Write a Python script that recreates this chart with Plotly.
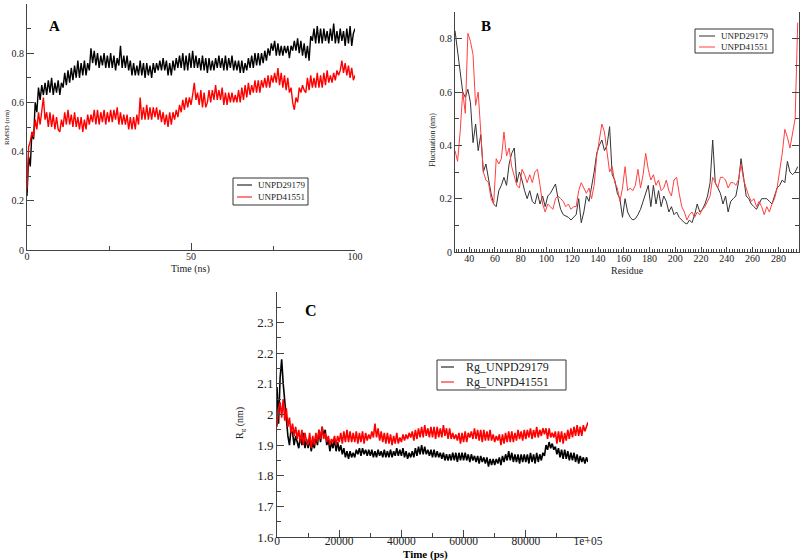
import plotly.graph_objects as go

# ---- panel A: RMSD (ns, nm) -------------------------------------------
time_ns = [i * 0.5 for i in range(201)]
rmsd_29179 = [
    0.22, 0.38, 0.34, 0.48, 0.45, 0.60, 0.56, 0.66, 0.61, 0.67,
    0.63, 0.68, 0.63, 0.69, 0.64, 0.70, 0.63, 0.68, 0.64, 0.69,
    0.63, 0.68, 0.66, 0.72, 0.67, 0.73, 0.68, 0.74, 0.69, 0.75,
    0.70, 0.77, 0.70, 0.76, 0.71, 0.77, 0.71, 0.76, 0.73, 0.82,
    0.76, 0.81, 0.75, 0.80, 0.74, 0.79, 0.75, 0.80, 0.74, 0.79,
    0.74, 0.80, 0.74, 0.79, 0.73, 0.78, 0.75, 0.83, 0.74, 0.79,
    0.74, 0.79, 0.73, 0.77, 0.71, 0.76, 0.71, 0.75, 0.71, 0.77,
    0.71, 0.76, 0.70, 0.76, 0.71, 0.75, 0.70, 0.76, 0.72, 0.76,
    0.73, 0.77, 0.73, 0.78, 0.73, 0.77, 0.71, 0.76, 0.71, 0.77,
    0.73, 0.78, 0.74, 0.79, 0.74, 0.80, 0.73, 0.79, 0.73, 0.80,
    0.74, 0.81, 0.74, 0.79, 0.74, 0.78, 0.73, 0.79, 0.73, 0.78,
    0.72, 0.78, 0.73, 0.77, 0.73, 0.78, 0.74, 0.79, 0.74, 0.78,
    0.73, 0.79, 0.73, 0.78, 0.74, 0.79, 0.73, 0.77, 0.73, 0.77,
    0.72, 0.77, 0.72, 0.76, 0.73, 0.78, 0.74, 0.79, 0.74, 0.80,
    0.75, 0.80, 0.75, 0.80, 0.76, 0.81, 0.77, 0.82, 0.79, 0.84,
    0.81, 0.85, 0.79, 0.84, 0.79, 0.83, 0.79, 0.83, 0.80, 0.83,
    0.78, 0.83, 0.81, 0.85, 0.81, 0.86, 0.80, 0.85, 0.79, 0.84,
    0.78, 0.83, 0.77, 0.87, 0.85, 0.90, 0.84, 0.91, 0.84, 0.90,
    0.84, 0.90, 0.85, 0.89, 0.84, 0.90, 0.85, 0.92, 0.84, 0.89,
    0.84, 0.90, 0.85, 0.89, 0.83, 0.90, 0.84, 0.91, 0.83, 0.88,
    0.90,
]
rmsd_41551 = [
    0.25, 0.42, 0.44, 0.48, 0.46, 0.53, 0.49, 0.56, 0.51, 0.57,
    0.62, 0.53, 0.56, 0.50, 0.56, 0.50, 0.55, 0.49, 0.54, 0.49,
    0.48, 0.53, 0.50, 0.56, 0.51, 0.57, 0.51, 0.55, 0.50, 0.56,
    0.50, 0.54, 0.49, 0.54, 0.48, 0.53, 0.49, 0.55, 0.51, 0.55,
    0.52, 0.57, 0.51, 0.57, 0.51, 0.56, 0.52, 0.57, 0.51, 0.56,
    0.52, 0.57, 0.52, 0.57, 0.53, 0.58, 0.51, 0.56, 0.51, 0.55,
    0.51, 0.55, 0.49, 0.54, 0.49, 0.54, 0.49, 0.55, 0.51, 0.62,
    0.53, 0.58, 0.53, 0.59, 0.53, 0.58, 0.53, 0.58, 0.54, 0.58,
    0.53, 0.57, 0.52, 0.56, 0.51, 0.55, 0.50, 0.56, 0.51, 0.56,
    0.53, 0.57, 0.54, 0.59, 0.56, 0.61, 0.57, 0.62, 0.58, 0.62,
    0.59, 0.63, 0.68, 0.61, 0.64, 0.59, 0.65, 0.58, 0.64, 0.58,
    0.60, 0.65, 0.60, 0.65, 0.61, 0.67, 0.61, 0.65, 0.61, 0.66,
    0.59, 0.64, 0.59, 0.64, 0.60, 0.64, 0.60, 0.63, 0.60, 0.65,
    0.60, 0.66, 0.61, 0.67, 0.62, 0.68, 0.63, 0.67, 0.64, 0.69,
    0.64, 0.69, 0.64, 0.69, 0.66, 0.70, 0.66, 0.71, 0.66, 0.71,
    0.68, 0.72, 0.68, 0.74, 0.67, 0.72, 0.66, 0.71, 0.65, 0.70,
    0.64, 0.66, 0.60, 0.57, 0.62, 0.60, 0.66, 0.64, 0.67, 0.65,
    0.64, 0.70, 0.65, 0.71, 0.66, 0.70, 0.66, 0.72, 0.66, 0.71,
    0.66, 0.72, 0.67, 0.73, 0.68, 0.71, 0.68, 0.72, 0.69, 0.73,
    0.71, 0.73, 0.77, 0.72, 0.76, 0.71, 0.75, 0.70, 0.74, 0.69,
    0.71,
]

# ---- panel B: RMSF per residue (nm) -----------------------------------
residues = list(range(29, 297, 2))
rmsf_29179 = [
    0.83, 0.76, 0.68, 0.60, 0.58, 0.61, 0.56, 0.41, 0.48, 0.38,
    0.44, 0.30, 0.33, 0.27, 0.22, 0.18, 0.17, 0.23, 0.25, 0.28,
    0.25, 0.33, 0.37, 0.39, 0.26, 0.30, 0.27, 0.23, 0.20, 0.23,
    0.19, 0.18, 0.22, 0.18, 0.21, 0.17, 0.21, 0.22, 0.24, 0.255,
    0.20, 0.16, 0.14, 0.135, 0.13, 0.12, 0.13, 0.14, 0.20, 0.11,
    0.15, 0.21, 0.19, 0.24, 0.30, 0.37, 0.40, 0.42, 0.38, 0.40,
    0.47, 0.29, 0.27, 0.22, 0.20, 0.13, 0.20, 0.15, 0.13, 0.12,
    0.125, 0.14, 0.16, 0.19, 0.22, 0.25, 0.17, 0.25, 0.18, 0.23,
    0.17, 0.21, 0.19, 0.15, 0.17, 0.14, 0.15, 0.13, 0.12, 0.11,
    0.105, 0.12, 0.11, 0.14, 0.18, 0.15, 0.16, 0.18, 0.21, 0.26,
    0.42, 0.26, 0.24, 0.22, 0.18, 0.21, 0.15, 0.19, 0.20, 0.21,
    0.26, 0.35, 0.28, 0.21, 0.20, 0.18, 0.17, 0.16, 0.18, 0.20,
    0.20, 0.20, 0.19, 0.18, 0.21, 0.24, 0.25, 0.27, 0.26, 0.34,
    0.30, 0.29, 0.30, 0.32,
]
rmsf_41551 = [
    0.38, 0.34, 0.45, 0.60, 0.52, 0.82, 0.79, 0.74, 0.55, 0.60,
    0.45, 0.30, 0.27, 0.26, 0.20, 0.18, 0.35, 0.33, 0.35, 0.45,
    0.36, 0.39, 0.32, 0.28, 0.25, 0.24, 0.31, 0.29, 0.26, 0.29,
    0.26, 0.30, 0.31, 0.25, 0.18, 0.15, 0.18, 0.17, 0.16, 0.20,
    0.21, 0.20, 0.19, 0.17, 0.18, 0.16, 0.17, 0.17, 0.23, 0.26,
    0.24, 0.22, 0.24, 0.20, 0.25, 0.36, 0.42, 0.48, 0.45, 0.38,
    0.30, 0.32, 0.26, 0.24, 0.19, 0.24, 0.32, 0.23, 0.24, 0.23,
    0.25, 0.31, 0.24, 0.29, 0.37, 0.31, 0.27, 0.29, 0.25, 0.27,
    0.23, 0.24, 0.27, 0.23, 0.21, 0.27, 0.28, 0.22, 0.17, 0.15,
    0.12, 0.14, 0.15, 0.13, 0.15, 0.14, 0.16, 0.17, 0.19, 0.21,
    0.28, 0.26, 0.24, 0.28, 0.28, 0.27, 0.24, 0.26, 0.26, 0.25,
    0.27, 0.33, 0.27, 0.24, 0.21, 0.19, 0.20, 0.17, 0.19, 0.17,
    0.14, 0.17, 0.15, 0.18, 0.20, 0.24, 0.30, 0.37, 0.46, 0.43,
    0.39, 0.44, 0.50, 0.86,
]

# ---- panel C: radius of gyration (ps, nm) -----------------------------
time_ps = [i * 500 for i in range(201)]
rg_29179 = [
    2.09, 1.97, 2.12, 2.18, 2.10, 2.04, 1.97, 1.93, 1.90, 1.95,
    1.94, 1.90, 1.93, 1.91, 1.89, 1.93, 1.90, 1.94, 1.89, 1.92,
    1.89, 1.92, 1.88, 1.91, 1.89, 1.93, 1.90, 1.95, 1.91, 1.96,
    1.93, 1.95, 1.90, 1.92, 1.88, 1.91, 1.89, 1.92, 1.88, 1.91,
    1.88, 1.90, 1.87, 1.89, 1.86, 1.88, 1.855, 1.88, 1.86, 1.875,
    1.86, 1.885, 1.87, 1.89, 1.865, 1.89, 1.87, 1.885, 1.865, 1.885,
    1.865, 1.885, 1.86, 1.88, 1.86, 1.885, 1.865, 1.88, 1.86, 1.885,
    1.86, 1.88, 1.86, 1.885, 1.86, 1.88, 1.865, 1.89, 1.865, 1.885,
    1.865, 1.89, 1.86, 1.88, 1.855, 1.875, 1.86, 1.88, 1.86, 1.89,
    1.865, 1.895, 1.87, 1.90, 1.87, 1.895, 1.87, 1.885, 1.865, 1.885,
    1.86, 1.885, 1.86, 1.88, 1.86, 1.875, 1.855, 1.875, 1.85, 1.87,
    1.85, 1.87, 1.85, 1.875, 1.85, 1.875, 1.845, 1.875, 1.85, 1.875,
    1.85, 1.875, 1.85, 1.87, 1.845, 1.87, 1.85, 1.865, 1.845, 1.865,
    1.84, 1.865, 1.845, 1.86, 1.84, 1.86, 1.83, 1.855, 1.835, 1.855,
    1.835, 1.855, 1.84, 1.86, 1.835, 1.865, 1.845, 1.87, 1.85, 1.88,
    1.85, 1.875, 1.845, 1.87, 1.845, 1.87, 1.84, 1.87, 1.845, 1.87,
    1.845, 1.87, 1.84, 1.875, 1.845, 1.87, 1.84, 1.875, 1.845, 1.87,
    1.85, 1.875, 1.865, 1.90, 1.885, 1.91, 1.89, 1.905, 1.885, 1.895,
    1.87, 1.89, 1.86, 1.885, 1.855, 1.885, 1.855, 1.88, 1.85, 1.875,
    1.85, 1.875, 1.845, 1.87, 1.84, 1.865, 1.845, 1.86, 1.84, 1.86,
    1.845,
]
rg_41551 = [
    1.96, 2.02, 2.04, 1.99, 2.05, 1.98, 2.02, 1.96, 1.99, 1.94,
    1.97, 1.93, 1.96, 1.92, 1.95, 1.91, 1.95, 1.90, 1.94, 1.91,
    1.90, 1.94, 1.89, 1.93, 1.90, 1.94, 1.91, 1.95, 1.92, 1.96,
    1.92, 1.94, 1.91, 1.93, 1.90, 1.92, 1.91, 1.93, 1.90, 1.93,
    1.91, 1.94, 1.905, 1.945, 1.91, 1.95, 1.91, 1.945, 1.91, 1.94,
    1.91, 1.945, 1.905, 1.94, 1.91, 1.945, 1.905, 1.94, 1.915, 1.935,
    1.92, 1.945, 1.925, 1.97, 1.925, 1.955, 1.915, 1.945, 1.91, 1.94,
    1.905, 1.94, 1.905, 1.935, 1.90, 1.93, 1.905, 1.94, 1.905, 1.925,
    1.91, 1.935, 1.915, 1.935, 1.92, 1.94, 1.925, 1.945, 1.915, 1.95,
    1.92, 1.955, 1.925, 1.96, 1.925, 1.965, 1.93, 1.955, 1.925, 1.96,
    1.925, 1.96, 1.92, 1.96, 1.925, 1.955, 1.925, 1.965, 1.93, 1.955,
    1.92, 1.955, 1.92, 1.94, 1.92, 1.935, 1.915, 1.94, 1.905, 1.94,
    1.91, 1.945, 1.91, 1.94, 1.925, 1.945, 1.92, 1.955, 1.92, 1.95,
    1.915, 1.95, 1.91, 1.95, 1.915, 1.945, 1.915, 1.95, 1.915, 1.935,
    1.91, 1.93, 1.915, 1.935, 1.90, 1.935, 1.905, 1.94, 1.91, 1.945,
    1.91, 1.945, 1.91, 1.94, 1.915, 1.95, 1.92, 1.945, 1.915, 1.95,
    1.92, 1.95, 1.925, 1.955, 1.92, 1.95, 1.925, 1.96, 1.925, 1.95,
    1.93, 1.955, 1.935, 1.955, 1.92, 1.955, 1.925, 1.94, 1.925, 1.945,
    1.905, 1.945, 1.91, 1.945, 1.905, 1.94, 1.915, 1.95, 1.92, 1.955,
    1.925, 1.96, 1.93, 1.965, 1.93, 1.96, 1.93, 1.965, 1.945, 1.965,
    1.975,
]

c_xticks = [0, 20000, 40000, 60000, 80000, 100000]
c_xticklabels = ["0", "20000", "40000", "60000", "80000", "1e+05"]
c_yticks = [1.6, 1.7, 1.8, 1.9, 2.0, 2.1, 2.2, 2.3]

W, H = 800, 560
SERIF = "Liberation Serif"
BLACK = "#000000"
RED = "#ff0000"
AXIS = "#444444"
TEXT = "#222222"


def px_x(p):
    return p / W


def px_y(p):
    return 1 - p / H


def axis(domain, size, **kw):
    # xmgrace look: plain line, inward ticks, no grid
    d = dict(
        domain=domain,
        showline=True,
        linecolor=AXIS,
        linewidth=1,
        ticks="inside",
        ticklen=7,
        tickcolor=AXIS,
        showgrid=False,
        zeroline=False,
        tickfont=dict(family=SERIF, size=size, color=TEXT),
        automargin=False,
    )
    d.update(kw)
    return d


fig = go.Figure()

# A
fig.add_trace(go.Scatter(x=time_ns, y=rmsd_29179, mode="lines", name="UNPD29179",
                         line=dict(color=BLACK, width=1.4), xaxis="x", yaxis="y"))
fig.add_trace(go.Scatter(x=time_ns, y=rmsd_41551, mode="lines", name="UNPD41551",
                         line=dict(color=RED, width=1.4), xaxis="x", yaxis="y"))
# B
fig.add_trace(go.Scatter(x=residues, y=rmsf_29179, mode="lines", name="UNPD29179",
                         line=dict(color="#333333", width=1), xaxis="x2", yaxis="y2"))
fig.add_trace(go.Scatter(x=residues, y=rmsf_41551, mode="lines", name="UNPD41551",
                         line=dict(color="#ff4040", width=1), xaxis="x2", yaxis="y2"))
# C
fig.add_trace(go.Scatter(x=time_ps, y=rg_29179, mode="lines", name="Rg_UNPD29179",
                         line=dict(color=BLACK, width=1.6), xaxis="x3", yaxis="y3"))
fig.add_trace(go.Scatter(x=time_ps, y=rg_41551, mode="lines", name="Rg_UNPD41551",
                         line=dict(color=RED, width=1.6), xaxis="x3", yaxis="y3"))

shapes = []
annotations = []


def text(t, x, y, size, bold=False, angle=0, xanchor="center"):
    annotations.append(dict(
        text=f"<b>{t}</b>" if bold else t, x=px_x(x), y=px_y(y),
        xref="paper", yref="paper", showarrow=False, textangle=angle,
        xanchor=xanchor, yanchor="middle",
        font=dict(family=SERIF, size=size, color=TEXT if not bold else "black"),
    ))


def legend_box(box, rows, line_x, text_x, size):
    # grace-style legend: framed box, short line sample, label
    x0, y0, x1, y1 = box
    shapes.append(dict(type="rect", xref="paper", yref="paper",
                       x0=px_x(x0), x1=px_x(x1), y0=px_y(y1), y1=px_y(y0),
                       line=dict(color="#333", width=1), fillcolor="white", layer="above"))
    for color, y, label in rows:
        shapes.append(dict(type="line", xref="paper", yref="paper",
                           x0=px_x(line_x[0]), x1=px_x(line_x[1]), y0=px_y(y), y1=px_y(y),
                           line=dict(color=color, width=1), layer="above"))
        text(label, text_x, y, size, xanchor="left")


legend_box((233, 178, 308, 205), [(BLACK, 185, "UNPD29179"), (RED, 197, "UNPD41551")],
           (237, 252), 256, 9)
legend_box((695, 29, 773, 53), [("#333333", 36, "UNPD29179"), ("#ff4040", 47, "UNPD41551")],
           (699, 715), 719, 9)
legend_box((437, 360, 566, 390), [(BLACK, 367, "Rg_UNPD29179"), (RED, 382, "Rg_UNPD41551")],
           (441, 454), 464, 12)

# axis titles and panel letters
text("Time (ns)", 190, 269, 10)
text("RMSD (nm)", 7, 127, 7, angle=-90)
text("Residue", 627, 270, 10)
text("Fluctuation (nm)", 432, 140, 8, angle=-90)
text("Time (ps)", 425, 554, 11, bold=True)
text("R<sub>g</sub> (nm)", 240, 423, 10, angle=-90)
text("A", 54, 26, 15, bold=True)
text("B", 486, 26, 15, bold=True)
text("C", 311, 310, 16, bold=True)

fig.update_layout(
    width=W, height=H, autosize=False,
    margin=dict(l=0, r=0, t=0, b=0, pad=0),
    paper_bgcolor="white", plot_bgcolor="white",
    showlegend=False,
    xaxis=axis([px_x(27), px_x(355)], 10, anchor="y", range=[0, 100], dtick=50,
               ticklabelstandoff=-3,
               minor=dict(dtick=25, ticks="inside", ticklen=4, tickcolor=AXIS)),
    yaxis=axis([px_y(250), px_y(4)], 10, anchor="x", range=[0, 1], dtick=0.2,
               minor=dict(dtick=0.1, ticks="inside", ticklen=4, tickcolor=AXIS)),
    xaxis2=axis([px_x(455), px_x(799)], 10, anchor="y2", range=[29, 296], dtick=20,
                ticklen=5, ticklabelstandoff=-3,
                minor=dict(dtick=2, ticks="inside", ticklen=3, tickcolor=AXIS)),
    yaxis2=axis([px_y(252), px_y(12)], 10, anchor="x2", range=[0, 0.9], dtick=0.2,
                mirror="ticks",
                minor=dict(dtick=0.1, ticks="inside", ticklen=4, tickcolor=AXIS)),
    xaxis3=axis([px_x(277), px_x(588)], 11.5, anchor="y3", range=[0, 100000],
                tickvals=c_xticks, ticktext=c_xticklabels, ticklabelstandoff=-7,
                minor=dict(dtick=10000, ticks="inside", ticklen=4, tickcolor=AXIS)),
    yaxis3=axis([px_y(537), px_y(292)], 13, anchor="x3", range=[1.6, 2.4],
                tickvals=c_yticks,
                minor=dict(dtick=0.05, ticks="inside", ticklen=4, tickcolor=AXIS)),
    shapes=shapes,
    annotations=annotations,
)

fig.write_html("out.html", config={"displayModeBar": False},
               post_script="document.body.style.margin='0';")
